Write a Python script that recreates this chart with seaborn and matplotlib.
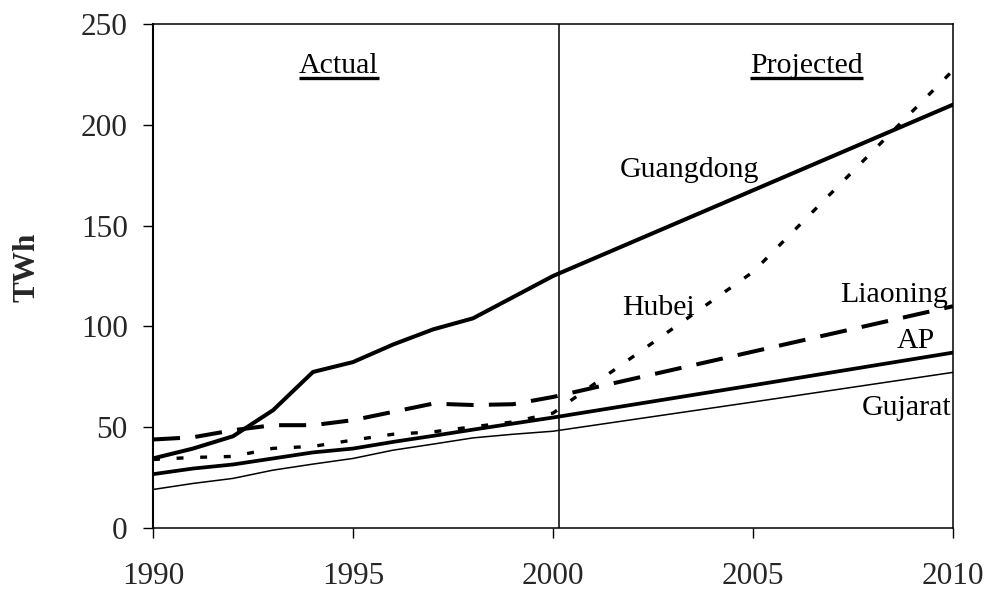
import numpy as np
import pandas as pd
import matplotlib
matplotlib.use("Agg")
import matplotlib.pyplot as plt
import seaborn as sns

# ---- data ----
years = [1990, 1991, 1992, 1993, 1994, 1995, 1996, 1997, 1998, 1999, 2000, 2005, 2010]
guangdong = [34.5, 39.4, 45.5, 58.4, 77.4, 82.3, 91.0, 98.5, 104.0, 114.5, 125.0, 167.5, 210.0]
liaoning = [43.9, 45.0, 48.5, 51.0, 51.0, 53.5, 57.6, 61.7, 61.0, 61.4, 65.0, 87.5, 110.0]
hubei = [34.0, 35.0, 35.5, 39.5, 40.5, 43.6, 46.5, 47.7, 50.2, 52.6, 57.0, 127.0, 227.0]
ap = [26.7, 29.5, 31.5, 34.5, 37.5, 39.4, 42.7, 45.7, 48.8, 51.8, 54.8, 70.8, 87.0]
gujarat = [19.1, 22.1, 24.6, 28.7, 31.7, 34.5, 38.6, 41.6, 44.7, 46.5, 48.0, 62.5, 77.2]

xticks = [1990, 1995, 2000, 2005, 2010]
yticks = [0, 50, 100, 150, 200, 250]
split_year = 2000.15

df = pd.DataFrame({
    "year": years * 5,
    "TWh": guangdong + liaoning + hubei + ap + gujarat,
    "province": (["Guangdong"] * len(years) + ["Liaoning"] * len(years) + ["Hubei"] * len(years)
                 + ["AP"] * len(years) + ["Gujarat"] * len(years)),
})

sns.set_theme(style="white")
plt.rcParams["font.family"] = ["Liberation Serif", "DejaVu Serif"]
plt.rcParams["lines.scale_dashes"] = False

FS = 21.5
FS_TICK = 22.5
fig = plt.figure(figsize=(9.89, 5.91), dpi=100)
ax = fig.add_axes([0.1547, 0.1066, 0.8089, 0.8528])

styles = {
    "Guangdong": dict(linewidth=2.9, linestyle="-"),
    "Liaoning": dict(linewidth=2.9, linestyle=(0, (19.5, 11))),
    "Hubei": dict(linewidth=2.4, linestyle=(0, (5, 12))),
    "AP": dict(linewidth=2.7, linestyle="-"),
    "Gujarat": dict(linewidth=1.1, linestyle="-"),
}
for name, kw in styles.items():
    sub = df[df["province"] == name]
    sns.lineplot(data=sub, x="year", y="TWh", ax=ax, color="black", legend=False, **kw)

ax.axvline(split_year, color="black", linewidth=1.1)

ax.set_xlim(1990, 2010)
ax.set_ylim(0, 250)
ax.set_xticks(xticks)
ax.set_yticks(yticks)
ax.set_xticklabels([str(t) for t in xticks], fontsize=FS_TICK)
ax.set_yticklabels([str(t) for t in yticks], fontsize=FS_TICK)
ax.tick_params(axis="y", direction="out", length=7.2, width=1.0, pad=11, color="black", left=True)
ax.tick_params(axis="x", direction="out", length=7.2, width=1.0, pad=17, color="black", bottom=True)
ax.set_xlabel("")
ax.set_ylabel("TWh", fontsize=22.4, fontweight="bold")
ax.yaxis.set_label_coords(-0.139, 0.518)

for sp in ax.spines.values():
    sp.set_color("black")
    sp.set_linewidth(1.1)
ax.spines["left"].set_linewidth(1.5)

# series labels
labels = [("Guangdong", 2001.68, 174.1), ("Hubei", 2001.72, 105.7), ("Liaoning", 2007.17, 112.3),
          ("AP", 2008.6, 89.3), ("Gujarat", 2007.72, 56.0)]
for txt, x, y in labels:
    ax.text(x, y, txt, fontsize=FS, ha="left", va="baseline", color="black")

# section headers with underline
hdrs = []
for txt, x in [("Actual", 1994.65), ("Projected", 2006.33)]:
    hdrs.append(ax.text(x, 225.5, txt, fontsize=FS, ha="center", va="baseline", color="black"))

fig.canvas.draw()
inv = ax.transData.inverted()
for t in hdrs:
    bb = t.get_window_extent()
    x0 = inv.transform((bb.x0, bb.y0))[0]
    x1 = inv.transform((bb.x1, bb.y0))[0]
    ax.plot([x0, x1], [223.3, 223.3], color="black", linewidth=2.4, solid_capstyle="butt")

fig.savefig("out.png", dpi=100)
